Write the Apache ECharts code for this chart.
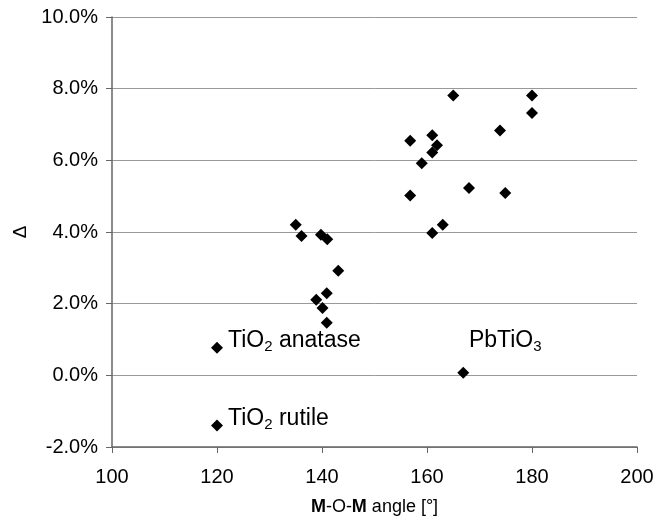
<!DOCTYPE html>
<html>
<head>
<meta charset="utf-8">
<script src="https://cdn.jsdelivr.net/npm/echarts@6/dist/echarts.min.js"></script>
<style>
  html, body { margin: 0; padding: 0; background: #fff; }
  #chart { width: 667px; height: 525px; }
</style>
</head>
<body>
<div id="chart"></div>
<script>
// M-O-M angle [deg] vs Delta [%]
const angles = [
    120, 120,
    135.0, 136.1, 139.8, 141.0, 143.1, 140.9, 138.9, 140.1, 140.9,
    165.0, 180.0, 180.0, 173.9, 156.8, 161.0, 161.9, 161.0, 159.0,
    168.0, 174.9, 156.8, 163.0, 161.0,
    166.9
];
const deltas = [
    0.77, -1.40,
    4.20, 3.89, 3.92, 3.80, 2.92, 2.29, 2.11, 1.88, 1.47,
    7.81, 7.81, 7.32, 6.83, 6.55, 6.70, 6.42, 6.22, 5.92,
    5.23, 5.09, 5.02, 4.20, 3.97,
    0.07
];
// annotated points: index -> label
const annotations = {
    0: '{n|TiO}{s|2}{n| anatase}',
    1: '{n|TiO}{s|2}{n| rutile}',
    25: '{n|PbTiO}{s|3}'
};
const xTicks = { min: 100, max: 200, step: 20 };
const yTicks = { min: -2, max: 10, step: 2 };

const font = 'Liberation Sans, Arial, Helvetica, sans-serif';
const rich = {
    n: { fontSize: 23, fontFamily: font, color: '#000' },
    s: { fontSize: 15, fontFamily: font, color: '#000', verticalAlign: 'bottom', padding: [13, 0, 0, 0] }
};

let points = angles.map((a, i) => {
    let item = { value: [a, deltas[i]] };
    if (annotations[i]) {
        item.label = {
            show: true,
            formatter: annotations[i],
            rich: rich,
            position: i === 25 ? 'top' : 'right',
            offset: i === 25 ? [42, -7] : [0, -7],
        };
    }
    return item;
});

let myChart = echarts.init(document.getElementById('chart'));
let option = {
    backgroundColor: '#ffffff',
    animation: false,
    grid: { left: 112, right: 30, top: 17, bottom: 78 },
    xAxis: {
        type: 'value',
        min: xTicks.min,
        max: xTicks.max,
        interval: xTicks.step,
        name: '{b|M}{r|-O-}{b|M}{r| angle [°]}',
        nameLocation: 'middle',
        nameGap: 51,
        nameTextStyle: {
            rich: {
                b: { fontSize: 18, fontWeight: 'bold', fontFamily: font, color: '#000' },
                r: { fontSize: 18, fontFamily: font, color: '#000' }
            }
        },
        axisLine: { onZero: false, lineStyle: { color: '#666', width: 1.5 } },
        axisTick: { show: true, length: 6, lineStyle: { color: '#666' } },
        axisLabel: { fontSize: 20, fontFamily: font, color: '#000', margin: 20 },
        splitLine: { show: false }
    },
    yAxis: {
        type: 'value',
        min: yTicks.min,
        max: yTicks.max,
        interval: yTicks.step,
        name: 'Δ',
        nameLocation: 'middle',
        nameGap: 82,
        nameTextStyle: { fontSize: 19, fontFamily: font, color: '#000' },
        axisLine: { show: true, lineStyle: { color: '#666', width: 1.5 } },
        axisTick: { show: true, length: 6, lineStyle: { color: '#666' } },
        axisLabel: {
            fontSize: 20, fontFamily: font, color: '#000', margin: 14,
            formatter: v => v.toFixed(1) + '%'
        },
        splitLine: { show: true, lineStyle: { color: '#999', width: 1 } }
    },
    series: [
        {
            type: 'scatter',
            symbol: 'diamond',
            symbolSize: 12,
            itemStyle: { color: '#000', opacity: 1 },
            data: points
        }
    ]
};
myChart.setOption(option);
</script>
</body>
</html>
